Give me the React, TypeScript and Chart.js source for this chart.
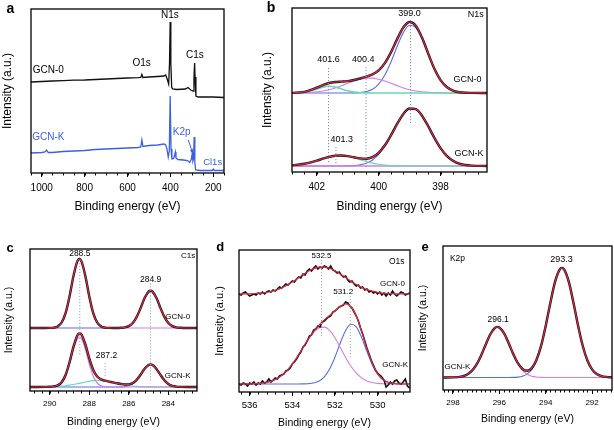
import React, { useEffect, useRef } from 'react';
import { Chart, registerables } from 'chart.js';
Chart.register(...registerables);

const FONT = "'Liberation Sans', Arial, Helvetica, sans-serif";

// ---------------- Panel a: survey ----------------
const aTicks = [1000, 800, 600, 400, 200];
const aX0 = [1050, 1000, 950, 900, 850, 800, 750, 700, 650, 600, 550, 538, 533, 528, 500, 460, 430, 422, 415, 408, 404, 401, 398, 394, 390, 370, 330, 318, 305, 294, 290, 287, 285, 281, 270, 200, 150];
const aY0 = [91, 91.5, 92, 92.3, 92.8, 93, 93.5, 94, 94.5, 95, 95.3, 95.5, 98.5, 95.5, 96, 96.5, 97, 98, 94, 89, 110, 151, 110, 86, 84, 83.5, 84, 85.5, 83, 82, 95, 110, 96, 77, 76, 76, 75.5];
const aXK = [1050, 1000, 985, 977, 970, 950, 900, 850, 800, 750, 700, 650, 600, 550, 538, 533, 528, 500, 460, 430, 422, 416, 410, 405, 401, 397, 393, 385, 380, 377, 374, 365, 340, 320, 310, 302, 298, 295, 292, 289, 286, 282, 260, 205, 200, 195, 150];
const aYK = [20, 20.5, 21, 23, 20.5, 20.5, 21.5, 22, 22.5, 23.5, 24, 24.5, 25, 25.5, 26, 33, 26.5, 27.5, 28, 29, 28, 24, 16, 22, 77, 24, 14, 14.5, 18, 21, 15, 13.5, 13, 12.5, 10.5, 14, 20, 12, 14, 36, 10, 3, 2.5, 2.5, 4, 2.5, 2.5];

// ---------------- Panel b: N1s ----------------
const bTicks = [402, 400, 398];
const bX = [402.8, 402.4, 402.0, 401.8, 401.6, 401.4, 401.2, 401.0, 400.8, 400.6, 400.4, 400.2, 400.0, 399.8, 399.6, 399.4, 399.2, 399.0, 398.8, 398.6, 398.4, 398.2, 398.0, 397.8, 397.6, 397.4, 397.2, 397.0, 396.5];
const bEnv0 = [79.1, 80.2, 84.3, 86.9, 89, 90, 90.4, 90.9, 92, 93.5, 95.4, 97.6, 101.7, 108.9, 119.9, 133.1, 144.7, 150, 146.3, 134.4, 118.5, 103.3, 91.9, 85, 81.4, 79.8, 79.2, 79.1, 79];
const bTeal0 = [79.1, 79.9, 83.1, 84.9, 85.7, 84.9, 83.1, 81.2, 79.9, 79.3, 79.1, 79, 79, 79, 79, 79, 79, 79, 79, 79, 79, 79, 79, 79, 79, 79, 79, 79, 79];
const bMag0 = [79.1, 79.3, 80.2, 81, 82.3, 84.1, 86.3, 88.7, 91, 92.8, 93.9, 93.9, 92.8, 91, 88.7, 86.3, 84.1, 82.3, 81, 80.2, 79.6, 79.3, 79.1, 79, 79, 79, 79, 79, 79];
const bBlue0 = [79, 79, 79, 79, 79, 79, 79, 79, 79.1, 79.4, 80.4, 82.7, 87.9, 96.9, 110.2, 125.8, 139.6, 146.7, 144.3, 133.2, 117.9, 103, 91.8, 84.9, 81.4, 79.8, 79.2, 79.1, 79];
const bEnvK = [6.6, 8.2, 11.4, 13.3, 15.1, 16.2, 16.5, 15.9, 14.7, 13.6, 13.3, 14.9, 19.2, 26.7, 36.9, 48.3, 58.1, 63.5, 62.9, 56.3, 45.8, 34.2, 23.9, 16.2, 11.2, 8.3, 7, 6.4, 6];
const bTealK = [6.6, 8.2, 11.4, 13.3, 15.1, 16.2, 16.5, 15.8, 14.3, 12.4, 10.5, 8.9, 7.7, 6.9, 6.4, 6.2, 6.1, 6, 6, 6, 6, 6, 6, 6, 6, 6, 6, 6, 6];
const bBlueK = [6, 6, 6, 6, 6, 6, 6, 6.1, 6.4, 7.2, 8.8, 12, 17.5, 25.8, 36.5, 48.1, 58, 63.5, 62.9, 56.3, 45.8, 34.2, 23.9, 16.2, 11.2, 8.3, 7, 6.4, 6];
const bMagK = [6, 6, 6, 6, 6, 6, 6, 6, 6, 6, 6, 6, 6, 6, 6, 6, 6, 6, 6, 6, 6, 6, 6, 6, 6, 6, 6, 6, 6];

// ---------------- Panel c: C1s ----------------
const cTicks = [290, 288, 286, 284];
const cX = [291.0, 290.6, 290.2, 290.0, 289.8, 289.6, 289.4, 289.2, 289.0, 288.8, 288.6, 288.5, 288.4, 288.2, 288.0, 287.8, 287.6, 287.4, 287.2, 287.0, 286.8, 286.6, 286.4, 286.2, 286.0, 285.8, 285.6, 285.4, 285.2, 285.0, 284.9, 284.8, 284.6, 284.4, 284.2, 284.0, 283.8, 283.6, 283.4, 283.0, 282.55];
const cEnv0 = [63, 63, 63, 63.1, 63.4, 64.6, 68.5, 77.9, 94.6, 115.1, 129.9, 132, 129.9, 115.1, 94.6, 77.9, 68.5, 64.6, 63.4, 63.1, 63, 63, 63.2, 63.6, 64.9, 68, 74.1, 83.1, 92.9, 99.4, 100.3, 99.4, 92.9, 83.1, 74.1, 68, 64.9, 63.6, 63.2, 63, 63];
const cMag0 = [63, 63, 63, 63.1, 63.4, 64.6, 68.5, 77.9, 94.6, 115.1, 129.9, 132, 129.9, 115.1, 94.6, 77.9, 68.5, 64.6, 63.4, 63.1, 63, 63, 63, 63, 63, 63, 63, 63, 63, 63, 63, 63, 63, 63, 63, 63, 63, 63, 63, 63, 63];
const cBlue0 = [63, 63, 63, 63, 63, 63, 63, 63, 63, 63, 63, 63, 63, 63, 63, 63, 63, 63, 63, 63, 63, 63, 63.2, 63.6, 64.9, 68, 74.1, 83.1, 92.9, 99.4, 100.3, 99.4, 92.9, 83.1, 74.1, 68, 64.9, 63.6, 63.2, 63, 63];
const cEnvK = [4, 4, 4.1, 4.2, 4.6, 5.6, 8.8, 16, 28.7, 44.3, 55.8, 57.7, 56.7, 46.8, 32.6, 21.1, 14.5, 11.6, 10.3, 9.4, 8.6, 7.7, 7, 6.5, 6.6, 8, 11.3, 16.5, 22.2, 26.1, 26.6, 26.1, 22, 16.1, 10.7, 7, 5.1, 4.4, 4.1, 4, 4];
const cMagK = [4, 4, 4, 4, 4.3, 5.1, 8, 14.8, 26.9, 41.8, 52.5, 54, 52.5, 41.8, 26.9, 14.8, 8, 5.1, 4.3, 4, 4, 4, 4, 4, 4, 4, 4, 4, 4, 4, 4, 4, 4, 4, 4, 4, 4, 4, 4, 4, 4];
const cTealK = [4, 4, 4.1, 4.2, 4.3, 4.5, 4.8, 5.2, 5.8, 6.5, 7.3, 7.7, 8.2, 9, 9.7, 10.3, 10.5, 10.4, 10, 9.4, 8.6, 7.7, 6.9, 6.1, 5.5, 5, 4.6, 4.4, 4.2, 4.1, 4.1, 4.1, 4, 4, 4, 4, 4, 4, 4, 4, 4];
const cBlueK = [4, 4, 4, 4, 4, 4, 4, 4, 4, 4, 4, 4, 4, 4, 4, 4, 4, 4, 4, 4, 4, 4, 4.1, 4.4, 5.1, 7, 10.7, 16.1, 22, 26, 26.5, 26, 22, 16.1, 10.7, 7, 5.1, 4.4, 4.1, 4, 4];

// ---------------- Panel d: O1s ----------------
const dTicks = [536, 534, 532, 530];
const dX = [536.5, 536.4, 536.3, 536.2, 536.1, 536.0, 535.9, 535.8, 535.7, 535.6, 535.5, 535.4, 535.3, 535.2, 535.1, 535.0, 534.9, 534.8, 534.7, 534.6, 534.5, 534.4, 534.3, 534.2, 534.1, 534.0, 533.9, 533.8, 533.7, 533.6, 533.5, 533.4, 533.3, 533.2, 533.1, 533.0, 532.9, 532.8, 532.7, 532.6, 532.5, 532.4, 532.3, 532.2, 532.1, 532.0, 531.9, 531.8, 531.7, 531.6, 531.5, 531.4, 531.3, 531.2, 531.1, 531.0, 530.9, 530.8, 530.7, 530.6, 530.5, 530.4, 530.3, 530.2, 530.1, 530.0, 529.9, 529.8, 529.7, 529.6, 529.5, 529.4, 529.3, 529.2, 529.1, 529.0, 528.9, 528.8, 528.7, 528.6, 528.5];
const dRaw0 = [98, 97, 99, 100, 98, 96, 97, 98, 97, 99, 98, 100, 98, 100, 101, 100, 102, 101, 103, 105, 104, 106, 108, 107, 109, 111, 110, 113, 115, 114, 118, 117, 121, 123, 121, 124, 126, 123, 125, 124, 126, 125, 123, 126, 122, 121, 119, 120, 117, 115, 116, 112, 110, 111, 108, 106, 107, 104, 105, 102, 103, 100, 101, 99, 100, 98, 100, 97, 99, 96, 99, 97, 101, 98, 96, 98, 100, 99, 97, 98, 99];
const dRawK = [8, 7, 9, 8, 6, 9, 8, 10, 7, 9, 8, 11, 9, 10, 13, 10, 12, 14, 13, 16, 17, 18, 21, 22, 24, 28, 30, 33, 37, 40, 45, 47, 51, 56, 57, 62, 63, 66, 65, 70, 71, 73, 75, 76, 80, 81, 83, 85, 86, 87, 90, 89, 86, 84, 80, 76, 71, 64, 58, 51, 44, 38, 32, 27, 22, 19, 17, 15, 12, 5, 7, 10, 8, 11, 12, 9, 8, 10, 13, 6, 4];
const dFitX = [536.5, 536.25, 536, 535.75, 535.5, 535.25, 535, 534.75, 534.5, 534.25, 534, 533.75, 533.5, 533.25, 533, 532.75, 532.5, 532.25, 532, 531.75, 531.5, 531.25, 531, 530.75, 530.5, 530.25, 530, 529.75, 529.5, 529.25, 529, 528.75, 528.5];
const dFit0 = [98, 98.1, 98.2, 98.5, 98.8, 99.5, 100.5, 102, 104.1, 106.8, 110, 113.6, 117.3, 120.7, 123.3, 124.8, 124.9, 123.7, 121.3, 118, 114.4, 110.7, 107.4, 104.6, 102.4, 100.8, 99.7, 98.9, 98.5, 98.3, 98.1, 98.1, 98];
const dFitK = [8, 8.1, 8.2, 8.3, 8.7, 9.5, 10.8, 13.1, 16.5, 21.4, 27.9, 35.7, 44.4, 52.9, 60.5, 66.8, 72.1, 76.6, 81, 85.6, 88.2, 85.5, 75.9, 60.6, 43.5, 28.8, 18.4, 12.5, 9.7, 8.5, 8.1, 8, 8];
const dMagK = [8, 8.1, 8.2, 8.3, 8.7, 9.5, 10.8, 13.1, 16.5, 21.4, 27.9, 35.7, 44.3, 52.6, 59.5, 63.9, 64.9, 61.6, 54.2, 44.6, 34.6, 25.7, 18.8, 14.1, 11.1, 9.5, 8.6, 8.3, 8.1, 8, 8, 8, 8];
const dBlueK = [8, 8, 8, 8, 8, 8, 8, 8, 8, 8, 8, 8, 8.1, 8.3, 9, 10.9, 15.2, 23, 34.8, 49, 61.6, 67.8, 65.1, 54.5, 40.4, 27.3, 17.8, 12.2, 9.6, 8.5, 8.1, 8, 8];

// ---------------- Panel e: K2p ----------------
const eTicks = [298, 296, 294, 292];
const eX = [298.4, 298.0, 297.6, 297.4, 297.2, 297.0, 296.8, 296.6, 296.4, 296.2, 296.1, 296.0, 295.8, 295.6, 295.4, 295.2, 295.0, 294.8, 294.6, 294.4, 294.2, 294.0, 293.8, 293.6, 293.4, 293.3, 293.2, 293.0, 292.8, 292.6, 292.4, 292.2, 292.0, 291.8, 291.5, 291.14];
const eEnv = [12.5, 12.6, 13.6, 15.3, 18.8, 24.8, 33.8, 44.7, 55.2, 61.9, 63.1, 62.6, 56.9, 47, 36, 26.8, 21, 19.2, 21.9, 30, 44.1, 64.1, 87.1, 107.9, 120.4, 122.1, 120.4, 107.9, 87.1, 64.1, 44, 29.5, 20.6, 15.9, 13.3, 12.6];
const eMag = [12.5, 12.6, 13.6, 15.3, 18.8, 24.8, 33.8, 44.7, 55.2, 61.9, 63.1, 62.6, 56.9, 47, 35.9, 26.4, 19.7, 15.8, 13.8, 13, 12.6, 12.5, 12.5, 12.5, 12.5, 12.5, 12.5, 12.5, 12.5, 12.5, 12.5, 12.5, 12.5, 12.5, 12.5, 12.5];
const eBlue = [12.5, 12.5, 12.5, 12.5, 12.5, 12.5, 12.5, 12.5, 12.5, 12.5, 12.5, 12.5, 12.5, 12.5, 12.6, 12.9, 13.8, 15.9, 20.6, 29.5, 44, 64.1, 87.1, 107.9, 120.4, 122.1, 120.4, 107.9, 87.1, 64.1, 44, 29.5, 20.6, 15.9, 13.3, 12.6];

// ---------------- styling ----------------
const BLACK = '#111111';
const RED = '#d92a44';
const BLUE = '#5a6ce4';
const MAG = '#d67ce8';
const TEAL = '#66d9b8';
const SURVEY_BLUE = '#3d5fe0';

function line(xs: number[], ys: number[], color: string, width: number, smooth = true) {
  return {
    data: xs.map((x, i) => ({ x, y: ys[i] })),
    borderColor: color,
    borderWidth: width,
    pointRadius: 0,
    fill: false,
    tension: smooth ? 0.4 : 0,
    cubicInterpolationMode: smooth ? 'monotone' : 'default',
  };
}

type Txt = { t: string; x: number; y: number; size: number; color?: string; align?: CanvasTextAlign };
type VL = { x: number; y1: number; y2: number; color: string };
type Spec = {
  left: number; top: number; width: number; height: number;
  yW: number; xH: number; padT: number; padR: number;
  xMin: number; xMax: number; yMax: number; majors: number[]; minorStep: number;
  tickSize: number; tickPad: number; xTitleSize: number; xTitlePadB: number; yTitleSize: number;
  datasets: any[]; texts: Txt[]; vlines: VL[]; arrows?: { x1: number; y1: number; x2: number; y2: number; color: string }[];
};

function Panel({ spec }: { spec: Spec }) {
  const ref = useRef<HTMLCanvasElement | null>(null);
  useEffect(() => {
    const s = spec;
    const overlay = {
      id: 'overlay',
      afterDraw(chart: any) {
        const { ctx, chartArea: ca, scales } = chart;
        const x = scales.x;
        const y = scales.y;
        ctx.save();
        // minor ticks
        ctx.strokeStyle = '#000';
        ctx.lineWidth = 1;
        const k0 = Math.ceil(s.xMin / s.minorStep - 1e-6);
        const k1 = Math.floor(s.xMax / s.minorStep + 1e-6);
        for (let k = k0; k <= k1; k++) {
          const px = Math.round(x.getPixelForValue(k * s.minorStep)) + 0.5;
          ctx.beginPath();
          ctx.moveTo(px, ca.bottom);
          ctx.lineTo(px, ca.bottom + 2.5);
          ctx.stroke();
        }
        // dotted guide lines
        ctx.setLineDash([1.2, 1.8]);
        for (const v of s.vlines) {
          const px = x.getPixelForValue(v.x);
          ctx.strokeStyle = v.color;
          ctx.lineWidth = 1;
          ctx.beginPath();
          ctx.moveTo(px, y.getPixelForValue(v.y1));
          ctx.lineTo(px, y.getPixelForValue(v.y2));
          ctx.stroke();
        }
        ctx.setLineDash([]);
        // arrows
        for (const a of s.arrows || []) {
          const x1 = x.getPixelForValue(a.x1), y1 = y.getPixelForValue(a.y1);
          const x2 = x.getPixelForValue(a.x2), y2 = y.getPixelForValue(a.y2);
          ctx.strokeStyle = a.color;
          ctx.fillStyle = a.color;
          ctx.lineWidth = 1;
          ctx.beginPath();
          ctx.moveTo(x1, y1);
          ctx.lineTo(x2, y2);
          ctx.stroke();
          const ang = Math.atan2(y2 - y1, x2 - x1);
          ctx.beginPath();
          ctx.moveTo(x2, y2);
          ctx.lineTo(x2 - 4 * Math.cos(ang - 0.45), y2 - 4 * Math.sin(ang - 0.45));
          ctx.lineTo(x2 - 4 * Math.cos(ang + 0.45), y2 - 4 * Math.sin(ang + 0.45));
          ctx.closePath();
          ctx.fill();
        }
        // frame
        ctx.strokeStyle = '#000';
        ctx.lineWidth = 1.3;
        ctx.strokeRect(ca.left, ca.top, ca.right - ca.left, ca.bottom - ca.top);
        // texts
        ctx.textBaseline = 'middle';
        for (const t of s.texts) {
          ctx.font = `${t.size}px ${FONT}`;
          ctx.fillStyle = t.color || '#000';
          ctx.textAlign = t.align || 'center';
          ctx.fillText(t.t, x.getPixelForValue(t.x), y.getPixelForValue(t.y));
        }
        ctx.restore();
      },
    };
    const chart = new Chart(ref.current as HTMLCanvasElement, {
      type: 'line',
      data: { datasets: s.datasets },
      options: {
        responsive: false,
        animation: false,
        devicePixelRatio: 1,
        events: [],
        layout: { padding: { top: s.padT, right: s.padR, left: 0, bottom: 0 } },
        plugins: { legend: { display: false }, tooltip: { enabled: false } },
        scales: {
          x: {
            type: 'linear',
            reverse: true,
            min: s.xMin,
            max: s.xMax,
            afterBuildTicks: (ax: any) => { ax.ticks = s.majors.map((v) => ({ value: v })); },
            afterFit: (ax: any) => { ax.height = s.xH; },
            ticks: {
              color: '#000', font: { family: FONT, size: s.tickSize }, padding: s.tickPad,
              maxRotation: 0, autoSkip: false, callback: (v: any) => String(v),
            },
            grid: { display: true, drawOnChartArea: false, drawTicks: true, tickLength: 4, color: '#000', lineWidth: 1 },
            border: { display: false },
            title: {
              display: true, text: 'Binding energy (eV)', color: '#000',
              font: { family: FONT, size: s.xTitleSize }, padding: { top: 0, bottom: s.xTitlePadB },
            },
          },
          y: {
            type: 'linear',
            min: 0,
            max: s.yMax,
            afterFit: (ax: any) => { ax.width = s.yW; },
            ticks: { display: false },
            grid: { display: false },
            border: { display: false },
            title: {
              display: true, text: 'Intensity (a.u.)', color: '#000',
              font: { family: FONT, size: s.yTitleSize }, padding: { top: 0, bottom: 0 },
            },
          },
        },
      } as any,
      plugins: [overlay],
    });
    return () => chart.destroy();
  }, []);
  return (
    <canvas
      ref={ref}
      width={spec.width}
      height={spec.height}
      style={{ position: 'absolute', left: spec.left, top: spec.top, width: spec.width, height: spec.height }}
    />
  );
}

const specA: Spec = {
  left: 0, top: 0, width: 232, height: 215, yW: 31, xH: 42, padT: 9, padR: 8,
  xMin: 150, xMax: 1050, yMax: 164, majors: aTicks, minorStep: 50,
  tickSize: 10, tickPad: 5, xTitleSize: 12, xTitlePadB: 1, yTitleSize: 12,
  datasets: [
    line(aX0, aY0, BLACK, 1.3, false),
    line(aXK, aYK, SURVEY_BLUE, 1.3, false),
  ],
  texts: [
    { t: 'N1s', x: 402, y: 158, size: 10 },
    { t: 'C1s', x: 285.4, y: 118, size: 10 },
    { t: 'O1s', x: 534, y: 109.7, size: 10 },
    { t: 'GCN-0', x: 969, y: 102.3, size: 10 },
    { t: 'GCN-K', x: 969, y: 35.7, size: 10, color: SURVEY_BLUE },
    { t: 'K2p', x: 347, y: 40.3, size: 10, color: SURVEY_BLUE },
    { t: 'Cl1s', x: 203, y: 10.3, size: 9.5, color: SURVEY_BLUE },
  ],
  vlines: [],
  arrows: [{ x1: 316.7, y1: 33, x2: 296, y2: 19.7, color: SURVEY_BLUE }],
};

const specB: Spec = {
  left: 260, top: 0, width: 234, height: 215, yW: 32, xH: 43, padT: 8, padR: 7,
  xMin: 396.5, xMax: 402.8, yMax: 164, majors: bTicks, minorStep: 0.4,
  tickSize: 10, tickPad: 5, xTitleSize: 12, xTitlePadB: 1, yTitleSize: 12,
  datasets: [
    line(bX, bEnv0, RED, 1.2),
    line(bX, bEnv0, BLACK, 2.4),
    line(bX, bEnvK, RED, 1.2),
    line(bX, bEnvK, BLACK, 2.4),
    line(bX, bTeal0, TEAL, 1.6),
    line(bX, bMag0, MAG, 1.1),
    line(bX, bBlue0, BLUE, 1.1),
    line(bX, bTealK, TEAL, 1.1),
    line(bX, bMagK, MAG, 1.3),
    line(bX, bBlueK, BLUE, 1.1),
  ],
  texts: [
    { t: '399.0', x: 399.0, y: 158, size: 9 },
    { t: '401.6', x: 401.62, y: 112, size: 9 },
    { t: '400.4', x: 400.5, y: 112, size: 9 },
    { t: '401.3', x: 401.19, y: 32, size: 9 },
    { t: 'N1s', x: 396.86, y: 157, size: 9 },
    { t: 'GCN-0', x: 397.13, y: 92, size: 9 },
    { t: 'GCN-K', x: 397.08, y: 18, size: 9 },
  ],
  vlines: [
    { x: 401.62, y1: 104, y2: 9, color: '#7d8cd0' },
    { x: 400.41, y1: 105, y2: 5, color: '#7d8cd0' },
    { x: 398.97, y1: 152, y2: 49, color: '#7d8cd0' },
    { x: 401.38, y1: 25, y2: 8, color: '#8a8a8a' },
  ],
};

const specC: Spec = {
  left: 3, top: 225, width: 200, height: 205, yW: 27, xH: 39, padT: 24, padR: 6,
  xMin: 282.55, xMax: 291.0, yMax: 142, majors: cTicks, minorStep: 0.4,
  tickSize: 8, tickPad: 4, xTitleSize: 10.5, xTitlePadB: 2, yTitleSize: 10.5,
  datasets: [
    line(cX, cEnv0, RED, 1.2),
    line(cX, cEnv0, BLACK, 2.4),
    line(cX, cEnvK, RED, 1.2),
    line(cX, cEnvK, BLACK, 2.4),
    line(cX, cMag0, MAG, 1.1),
    line(cX, cBlue0, BLUE, 1.1),
    line(cX, cMagK, MAG, 1.2),
    line(cX, cTealK, TEAL, 1.2),
    line(cX, cBlueK, BLUE, 1.1),
  ],
  texts: [
    { t: '288.5', x: 288.48, y: 137.5, size: 8.5 },
    { t: '284.9', x: 284.9, y: 111.7, size: 8.5 },
    { t: 'C1s', x: 283.0, y: 135, size: 8 },
    { t: 'GCN-0', x: 283.53, y: 74, size: 8 },
    { t: 'GCN-K', x: 283.53, y: 15, size: 8 },
    { t: '287.2', x: 287.13, y: 35, size: 8.5 },
  ],
  vlines: [
    { x: 288.48, y1: 134, y2: 36, color: '#9aa3c6' },
    { x: 284.9, y1: 107.7, y2: 9.3, color: '#9aa3c6' },
    { x: 287.2, y1: 28, y2: 14, color: '#9aa3c6' },
  ],
};

const specD: Spec = {
  left: 213, top: 225, width: 201, height: 205, yW: 26, xH: 38, padT: 25, padR: 4,
  xMin: 528.48, xMax: 536.5, yMax: 142, majors: dTicks, minorStep: 0.4,
  tickSize: 9.5, tickPad: 4, xTitleSize: 10.5, xTitlePadB: 1, yTitleSize: 11,
  datasets: [
    line(dFitX, dFit0, RED, 1.2),
    line(dFitX, dFitK, RED, 1.2),
    line(dX, dRaw0, BLACK, 1.6, false),
    line(dX, dRawK, BLACK, 1.6, false),
    line(dFitX, dMagK, MAG, 1.1),
    line(dFitX, dBlueK, BLUE, 1.1),
  ],
  texts: [
    { t: '532.5', x: 532.63, y: 136, size: 8 },
    { t: '531.2', x: 531.61, y: 100, size: 8 },
    { t: 'O1s', x: 529.1, y: 130, size: 8.5 },
    { t: 'GCN-0', x: 529.3, y: 108, size: 8 },
    { t: 'GCN-K', x: 529.18, y: 27, size: 8 },
  ],
  vlines: [
    { x: 532.63, y1: 132, y2: 54, color: '#a8a8a8' },
    { x: 531.28, y1: 96, y2: 35, color: '#a8a8a8' },
  ],
};

const specE: Spec = {
  left: 417, top: 225, width: 197, height: 205, yW: 26, xH: 40, padT: 21, padR: 2,
  xMin: 291.14, xMax: 298.43, yMax: 144, majors: eTicks, minorStep: 0.2,
  tickSize: 8, tickPad: 4, xTitleSize: 10.5, xTitlePadB: 5, yTitleSize: 10.5,
  datasets: [
    line(eX, eEnv, RED, 1.2),
    line(eX, eEnv, BLACK, 2.4),
    line(eX, eMag, MAG, 1.1),
    line(eX, eBlue, BLUE, 1.1),
  ],
  texts: [
    { t: 'K2p', x: 298.13, y: 131.7, size: 8.5, align: 'left' },
    { t: '293.3', x: 293.32, y: 130.7, size: 9 },
    { t: '296.1', x: 296.05, y: 70.7, size: 8.5 },
    { t: 'GCN-K', x: 297.81, y: 23.3, size: 8 },
  ],
  vlines: [],
};

const letters = [
  { ch: 'a', x: 10.3, y: 7.5, size: 14 },
  { ch: 'b', x: 271, y: 6.7, size: 14 },
  { ch: 'c', x: 10, y: 246.7, size: 13 },
  { ch: 'd', x: 220.3, y: 246.3, size: 13 },
  { ch: 'e', x: 425, y: 246, size: 13 },
];

export default function App() {
  return (
    <div style={{ position: 'fixed', left: 0, top: 0, width: 614, height: 430, background: '#fff', overflow: 'hidden' }}>
      <Panel spec={specA} />
      <Panel spec={specB} />
      <Panel spec={specC} />
      <Panel spec={specD} />
      <Panel spec={specE} />
      {letters.map((l) => (
        <div
          key={l.ch}
          style={{
            position: 'absolute', left: l.x, top: l.y, transform: 'translate(-50%, -50%)',
            fontFamily: FONT, fontWeight: 'bold', fontSize: l.size, lineHeight: 1, color: '#000',
          }}
        >
          {l.ch}
        </div>
      ))}
    </div>
  );
}
